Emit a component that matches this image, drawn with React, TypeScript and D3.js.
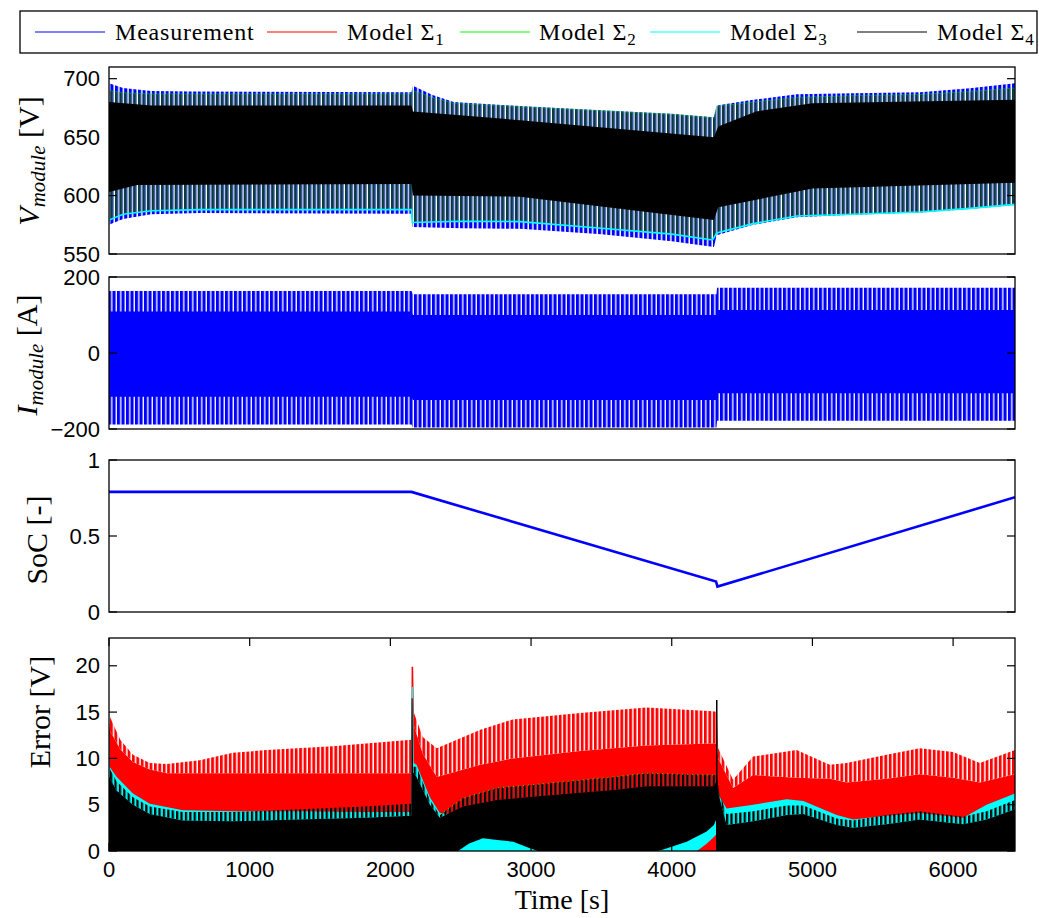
import React from 'react';
import * as d3 from 'd3';

type P = [number, number][];

// ---------- ticks ----------
const xTicks = [0, 1000, 2000, 3000, 4000, 5000, 6000];
const vTicks = [550, 600, 650, 700];
const iTicks = [-200, 0, 200];
const socTicks = [0, 0.5, 1];
const eTicks = [0, 5, 10, 15, 20];

// ---------- legend ----------
const legendNames = ['Measurement', 'Model Σ', 'Model Σ', 'Model Σ', 'Model Σ'];
const legendSubs = ['', '1', '2', '3', '4'];
const legendColors = ['#0000ff', '#ff0000', '#00ff00', '#00ffff', '#000000'];

// ---------- V_module envelopes [t, V] ----------
const vMeasUpper: P = [[0, 696], [100, 692], [300, 689.5], [575, 689], [2150, 688.5], [2160, 694], [2300, 686], [2450, 680], [2921, 676.6], [3500, 673], [4000, 670], [4300, 667], [4320, 677], [4578, 682], [4890, 686.6], [5290, 687.5], [5765, 688.4], [6120, 691.8], [6440, 696]];
const vMeasLower: P = [[0, 575], [100, 580], [300, 584], [650, 585], [2150, 584.5], [2156, 573], [2500, 572], [2921, 571.5], [3500, 567], [4000, 561], [4300, 556], [4320, 566], [4578, 575], [4890, 581.5], [5290, 583.5], [5765, 585.5], [6120, 588.5], [6440, 592]];
const vModelUpper: P = [[0, 690], [100, 688], [300, 687], [575, 687], [2150, 687], [2160, 690], [2300, 684], [2450, 679], [2921, 676], [3500, 672.5], [4000, 669.5], [4300, 666.5], [4320, 676.5], [4578, 680], [4890, 684], [5290, 685.5], [5765, 686.5], [6120, 689], [6440, 692]];
const vModelLower: P = [[0, 579], [100, 584], [300, 587], [650, 588], [2150, 588], [2156, 577], [2500, 578], [2921, 577.7], [3500, 572], [4000, 567], [4290, 562], [4320, 568], [4578, 576], [4890, 582.5], [5290, 584], [5765, 586], [6120, 589], [6440, 592.5]];
const vCoreUpper: P = [[0, 680], [300, 677], [2150, 677], [2160, 672], [2921, 664.5], [4300, 650], [4330, 659], [4600, 672], [5000, 679], [6440, 682]];
const vCoreLower: P = [[0, 603], [200, 609], [2150, 610], [2160, 600], [2921, 599], [4300, 579], [4330, 590], [5000, 606], [6440, 611]];

// ---------- I_module envelopes [t, A] ----------
const iUpper: P = [[0, 163], [2150, 163], [2160, 154.5], [4318, 154.5], [4322, 172], [6440, 172]];
const iLower: P = [[0, -188], [2150, -188], [2160, -196], [4318, -196], [4322, -178], [6440, -178]];
const iCoreUpper: P = [[0, 109], [2150, 109], [2160, 100], [4318, 100], [4322, 113], [6440, 113]];
const iCoreLower: P = [[0, -115], [2150, -115], [2160, -124], [4318, -124], [4322, -106], [6440, -106]];

// ---------- SoC ----------
const soc: P = [[0, 0.79], [2150, 0.79], [4315, 0.2], [4325, 0.167], [6440, 0.755]];

// ---------- Error envelopes [t, V] ----------
const eRedUpper: P = [[0, 18.1], [6, 14.5], [80, 12], [170, 10.4], [290, 9.5], [410, 9.4], [645, 9.8], [880, 10.6], [1120, 10.9], [1590, 11.3], [2148, 12], [2151, 19.9], [2162, 19.9], [2168, 14.9], [2230, 12.3], [2330, 11.1], [2640, 13.1], [2870, 14.2], [3350, 14.9], [3820, 15.5], [4290, 15.1], [4322, 15], [4330, 11.1], [4436, 7.7], [4578, 10.2], [4888, 10.9], [5124, 9.3], [5243, 9.5], [5527, 10.4], [5764, 11.1], [6000, 10.7], [6190, 9.5], [6440, 10.9]];
const eRedCore: P = [[0, 14], [6, 13], [80, 11], [170, 9.6], [290, 8.8], [410, 8.4], [2148, 8.4], [2151, 19.9], [2162, 19.9], [2168, 13.5], [2230, 10.5], [2330, 8.0], [2640, 9.3], [2870, 10.0], [3350, 10.8], [3820, 11.4], [4290, 11.6], [4322, 11.6], [4330, 10.0], [4436, 6.8], [4578, 8.2], [4888, 7.9], [5124, 7.8], [5243, 7.4], [5527, 7.8], [5764, 8.3], [6000, 7.9], [6190, 7.4], [6440, 8.3]];
const eCyanTop: P = [[0, 15.4], [4, 9.1], [55, 8], [170, 6.2], [290, 5.1], [525, 4.4], [880, 4.3], [1350, 4.3], [1820, 4.2], [2148, 4.2], [2151, 17.7], [2160, 17.7], [2166, 9.5], [2186, 9.3], [2281, 5.8], [2352, 4.1], [2420, 4.0], [2516, 4.6], [2755, 5.3], [4295, 6.8], [4320, 6.8], [4335, 6], [4390, 4.6], [4580, 5.0], [4817, 5.6], [4935, 5.4], [5172, 3.9], [5290, 3.4], [5527, 3.8], [5764, 4.1], [6072, 3.6], [6238, 5.0], [6440, 6.2]];
const eBlackSolid: P = [[0, 8], [55, 6.5], [170, 5], [290, 4], [525, 3.3], [880, 3.2], [1350, 3.4], [1820, 3.6], [2148, 3.8], [2151, 16.5], [2158, 16.5], [2161, 8.5], [2186, 8], [2281, 5], [2352, 3.6], [2516, 4.8], [2755, 5.5], [3111, 6], [3584, 6.6], [3822, 7.0], [4295, 7.0], [4320, 7.5], [4335, 6], [4390, 2.8], [4580, 3.2], [4817, 3.9], [4935, 4.0], [5172, 2.8], [5290, 2.5], [5527, 2.9], [5764, 3.4], [6072, 2.9], [6238, 3.4], [6440, 4.5]];
const eBlackSpike: P = [[0, 9], [55, 7.5], [170, 5.8], [290, 4.8], [525, 4.2], [880, 4.2], [1350, 4.5], [1820, 4.8], [2148, 5.1], [2151, 16.5], [2158, 16.5], [2161, 9.1], [2186, 9.1], [2281, 5.5], [2352, 3.9], [2516, 5.7], [2755, 6.8], [3111, 7.3], [3584, 8.0], [3822, 8.4], [4295, 8.2], [4320, 8.2], [4335, 6.5], [4390, 4], [4580, 4.3], [4817, 4.9], [4935, 4.9], [5172, 3.5], [5290, 3.3], [5527, 3.9], [5764, 4.3], [6072, 3.7], [6238, 4.3], [6440, 5.5]];
const eCyanBlob: P = [[2481, 0], [2560, 0.8], [2658, 1.37], [2760, 1.2], [2873, 1.0], [2992, 0.3], [3050, 0]];
const eCyanRamp: P = [[3900, 0], [3940, 0.15], [4106, 1.0], [4248, 2.1], [4300, 2.8], [4314, 3.35], [4320, 0]];
const eRedRamp: P = [[4180, 0], [4250, 0.8], [4300, 1.5], [4318, 1.8], [4320, 0]];
const eSpike4: P = [[4320, 0], [4320, 16.3]];

const L = 109;
const R = 1015;
const SANS = '"Liberation Sans", Arial, Helvetica, sans-serif';
const SERIF = '"Liberation Serif", "Times New Roman", serif';

export default function App() {
  const x = d3.scaleLinear().domain([0, 6440]).range([L, R]);
  const yV = d3.scaleLinear().domain([550, 710]).range([254, 67]);
  const yI = d3.scaleLinear().domain([-200, 200]).range([429, 277]);
  const yS = d3.scaleLinear().domain([0, 1]).range([612, 460]);
  const yE = d3.scaleLinear().domain([0, 23]).range([851, 638]);

  const band = (top: P, bottom: P, y: d3.ScaleLinear<number, number>) => {
    const pts: [number, number][] = [
      ...top.map((d) => [x(d[0]), y(d[1])] as [number, number]),
      ...[...bottom].reverse().map((d) => [x(d[0]), y(d[1])] as [number, number]),
    ];
    return (d3.line()(pts) || '') + 'Z';
  };
  const fromZero = (top: P, y: d3.ScaleLinear<number, number>) =>
    d3.area<[number, number]>().x((d) => x(d[0])).y0(y(0)).y1((d) => y(d[1]))(top) || '';
  const line = (pts: P, y: d3.ScaleLinear<number, number>) =>
    d3.line<[number, number]>().x((d) => x(d[0])).y((d) => y(d[1]))(pts) || '';

  const fmtTick = (v: number) => (v < 0 ? '\u2212' + String(-v) : String(v));

  const axes = (
    y: d3.ScaleLinear<number, number>,
    ticks: number[],
    withX: boolean
  ) => {
    const [b, t] = y.range();
    return (
      <g>
        <rect x={L} y={t} width={R - L} height={b - t} fill="none" stroke="#000" strokeWidth={1.3} />
        {ticks.map((v) => (
          <g key={'y' + v}>
            <line x1={L} x2={L + 8} y1={y(v)} y2={y(v)} stroke="#000" strokeWidth={1.2} />
            <line x1={R} x2={R - 8} y1={y(v)} y2={y(v)} stroke="#000" strokeWidth={1.2} />
            <text x={L - 9} y={y(v)} textAnchor="end" dominantBaseline="central" fontFamily={SANS} fontSize={22} fill="#000">
              {fmtTick(v)}
            </text>
          </g>
        ))}
        {withX &&
          xTicks.map((v) => (
            <g key={'x' + v}>
              <line x1={x(v)} x2={x(v)} y1={b} y2={b - 8} stroke="#000" strokeWidth={1.2} />
              <line x1={x(v)} x2={x(v)} y1={t} y2={t + 8} stroke="#000" strokeWidth={1.2} />
              <text x={x(v)} y={877} textAnchor="middle" fontFamily={SANS} fontSize={22} fill="#000">
                {v}
              </text>
            </g>
          ))}
      </g>
    );
  };

  const clip = (id: string, y: d3.ScaleLinear<number, number>) => {
    const [b, t] = y.range();
    return (
      <clipPath id={id}>
        <rect x={L} y={t} width={R - L} height={b - t} />
      </clipPath>
    );
  };

  const legendLineX = [35, 267, 460, 650, 857];
  const legendTextX = [115, 347, 539, 730, 937];

  const greenTips = eBlackSpike.filter((d) => d[0] >= 2300 && d[0] <= 4300);

  return (
    <svg width={1039} height={918} style={{ position: 'absolute', left: 0, top: 0, background: '#fff' }}>
      <defs>
        {clip('cV', yV)}
        {clip('cI', yI)}
        {clip('cS', yS)}
        {clip('cE', yE)}
        <pattern id="stBlue" patternUnits="userSpaceOnUse" width={4.6} height={10}>
          <rect x={0} y={0} width={3.1} height={10} fill="#0000ff" />
        </pattern>
        <pattern id="stTeal" patternUnits="userSpaceOnUse" width={4.6} height={10}>
          <rect x={0} y={0} width={2.3} height={10} fill="#0a3a33" />
          <rect x={2.3} y={0} width={0.8} height={10} fill="#4f8a80" />
        </pattern>
        <pattern id="stIBlue" patternUnits="userSpaceOnUse" width={4.5} height={10}>
          <rect x={0} y={0} width={3.2} height={10} fill="#0000ff" />
          <rect x={3.2} y={0} width={0.5} height={10} fill="#9999ff" />
        </pattern>
        <pattern id="stRed" patternUnits="userSpaceOnUse" width={4.4} height={10}>
          <rect x={0} y={0} width={2.6} height={10} fill="#ff0000" />
          <rect x={2.6} y={0} width={0.7} height={10} fill="#ff9c9c" />
        </pattern>
        <pattern id="stBlack" patternUnits="userSpaceOnUse" width={4.4} height={10}>
          <rect x={0} y={0} width={2.2} height={10} fill="#000" />
          <rect x={2.2} y={0} width={0.6} height={10} fill="#1f5a50" />
        </pattern>
      </defs>

      {/* Legend */}
      <rect x={20} y={11} width={1017} height={42} fill="#fff" stroke="#000" strokeWidth={1.3} />
      {legendNames.map((n, i) => (
        <g key={'lg' + i}>
          <line x1={legendLineX[i]} x2={legendLineX[i] + 70} y1={32} y2={32} stroke={legendColors[i]} strokeWidth={1.2} />
          <text x={legendTextX[i]} y={39.5} fontFamily={SERIF} fontSize={24} letterSpacing={0.8} fill="#000">
            {n}
            {legendSubs[i] && (
              <tspan fontSize={17} dy={5}>
                {legendSubs[i]}
              </tspan>
            )}
          </text>
        </g>
      ))}

      {/* Panel 1: V_module */}
      <g clipPath="url(#cV)">
        <path d={band(vMeasUpper, vMeasLower, yV)} fill="url(#stBlue)" />
        <path d={band(vModelUpper, vModelLower, yV)} fill="url(#stTeal)" />
        <path d={band(vCoreUpper, vCoreLower, yV)} fill="#000" />
        <path d={line(vModelUpper, yV)} fill="none" stroke="#00ff00" strokeWidth={0.8} opacity={0.45} />
        <path d={line(vModelLower, yV)} fill="none" stroke="#00ffff" strokeWidth={1.6} />
      </g>
      {axes(yV, vTicks, false)}

      {/* Panel 2: I_module */}
      <g clipPath="url(#cI)">
        <path d={band(iUpper, iLower, yI)} fill="url(#stIBlue)" />
        <path d={band(iCoreUpper, iCoreLower, yI)} fill="#0000ff" />
      </g>
      {axes(yI, iTicks, false)}

      {/* Panel 3: SoC */}
      <g clipPath="url(#cS)">
        <path d={line(soc, yS)} fill="none" stroke="#0000ff" strokeWidth={2.6} />
      </g>
      {axes(yS, socTicks, false)}

      {/* Panel 4: Error */}
      <g clipPath="url(#cE)">
        <path d={fromZero(eRedCore, yE)} fill="#ff0000" />
        <path d={band(eRedUpper, eRedCore, yE)} fill="url(#stRed)" />
        <path d={fromZero(eCyanTop, yE)} fill="#00ffff" />
        <path d={band(eBlackSpike, eBlackSolid, yE)} fill="url(#stBlack)" />
        <path d={fromZero(eBlackSolid, yE)} fill="#000" />
        <path d={line(greenTips, yE)} fill="none" stroke="#00ff00" strokeWidth={1} strokeDasharray="1 4" />
        <path d={fromZero(eCyanBlob, yE)} fill="#00ffff" />
        <path d={fromZero(eCyanRamp, yE)} fill="#00ffff" />
        <path d={fromZero(eRedRamp, yE)} fill="#ff0000" />
        <path d={line(eSpike4, yE)} fill="none" stroke="#000" strokeWidth={1.5} />
      </g>
      {axes(yE, eTicks, true)}

      {/* Axis labels */}
      <text transform="translate(39,161) rotate(-90)" textAnchor="middle" fontFamily={SERIF} fontSize={30} fill="#000">
        <tspan fontStyle="italic">V</tspan>
        <tspan fontStyle="italic" fontSize={21} dy={6}>module</tspan>
        <tspan dy={-6}> [V]</tspan>
      </text>
      <text transform="translate(37,355) rotate(-90)" textAnchor="middle" fontFamily={SERIF} fontSize={30} fill="#000">
        <tspan fontStyle="italic">I</tspan>
        <tspan fontStyle="italic" fontSize={21} dy={6}>module</tspan>
        <tspan dy={-6}> [A]</tspan>
      </text>
      <text transform="translate(47,540) rotate(-90)" textAnchor="middle" fontFamily={SERIF} fontSize={30} fill="#000">
        SoC [-]
      </text>
      <text transform="translate(50,712) rotate(-90)" textAnchor="middle" fontFamily={SERIF} fontSize={30} fill="#000">
        Error [V]
      </text>
      <text x={562} y={909} textAnchor="middle" fontFamily={SERIF} fontSize={28} fill="#000">
        Time [s]
      </text>
    </svg>
  );
}
